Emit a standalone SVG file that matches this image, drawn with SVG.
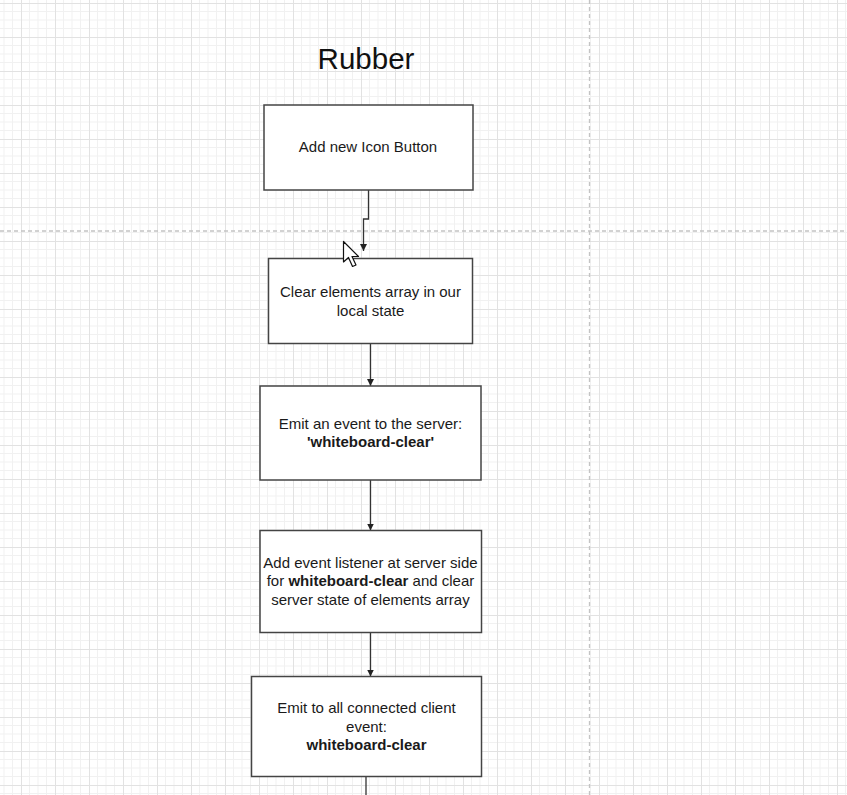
<svg xmlns="http://www.w3.org/2000/svg" width="847" height="795" viewBox="0 0 847 795">
<defs>
<pattern id="grid" patternUnits="userSpaceOnUse" x="21" y="3" width="34" height="34">
<path d="M8.5 0V34M17 0V34M25.5 0V34M0 8.5H34M0 17H34M0 25.5H34" stroke="#f1f1f1" stroke-width="1" fill="none"/>
<path d="M0.5 0V34M0 0.5H34" stroke="#e2e2e2" stroke-width="1" fill="none"/>
</pattern>
<marker id="arr" viewBox="0 0 10 10" refX="10" refY="5" markerWidth="7" markerHeight="7" orient="auto" markerUnits="userSpaceOnUse">
<path d="M0 0L10 5L0 10Z" fill="#222"/>
</marker>
</defs>
<style>
.box{fill:#fff;stroke:#444;stroke-width:1.5}
.t{font-family:"Liberation Sans",Arial,sans-serif;font-size:15px;fill:#1a1a1a;text-anchor:middle}
.b{font-weight:bold}
.edge{fill:none;stroke:#333;stroke-width:1.3;marker-end:url(#arr)}
.pb{stroke:#c4c4c4;stroke-width:1.3;stroke-dasharray:4 3;fill:none}
</style>
<rect width="847" height="795" fill="#fff"/>
<rect width="847" height="795" fill="url(#grid)"/>
<path class="pb" d="M0 231H847M589.5 0V795"/>
<text x="366" y="69" style="font-family:'Liberation Sans',Arial,sans-serif;font-size:29.5px;fill:#111;text-anchor:middle">Rubber</text>
<g id="connectors">
<path class="edge" d="M368.5 190V219H363.5V251"/>
<path class="edge" d="M370.5 343.5V386"/>
<path class="edge" d="M370.5 480V530.5"/>
<path class="edge" d="M370.5 632.5V676.5"/>
<path d="M366 777V795" stroke="#333" stroke-width="1.3" fill="none"/>
</g>
<g id="n1">
<rect class="box" x="264" y="105" width="209" height="85"/>
<text class="t" x="368" y="152">Add new Icon Button</text>
</g>
<g id="n2">
<rect class="box" x="268.5" y="258.5" width="204" height="85"/>
<text class="t" x="370.5" y="297">Clear elements array in our</text>
<text class="t" x="370.5" y="315.5">local state</text>
</g>
<g id="n3">
<rect class="box" x="260" y="386" width="221" height="94"/>
<text class="t" x="370.5" y="428.5">Emit an event to the server:</text>
<text class="t b" x="370.5" y="447">'whiteboard-clear'</text>
</g>
<g id="n4">
<rect class="box" x="260" y="530.5" width="221.5" height="102"/>
<text class="t" x="370.5" y="567.5">Add event listener at server side</text>
<text class="t" x="370.5" y="586"><tspan>for </tspan><tspan class="b">whiteboard-clear</tspan><tspan> and clear</tspan></text>
<text class="t" x="370.5" y="604.5">server state of elements array</text>
</g>
<g id="n5">
<rect class="box" x="251.5" y="676.5" width="230" height="100"/>
<text class="t" x="366.5" y="713">Emit to all connected client</text>
<text class="t" x="366.5" y="731.5">event:</text>
<text class="t b" x="366.5" y="750">whiteboard-clear</text>
</g>
<path d="M343.5 241.5V262L348.5 257.5L352.5 266.5L356 265L352 256.5H358.5Z" fill="#fff" stroke="#111" stroke-width="1.2" stroke-linejoin="round"/>
</svg>
